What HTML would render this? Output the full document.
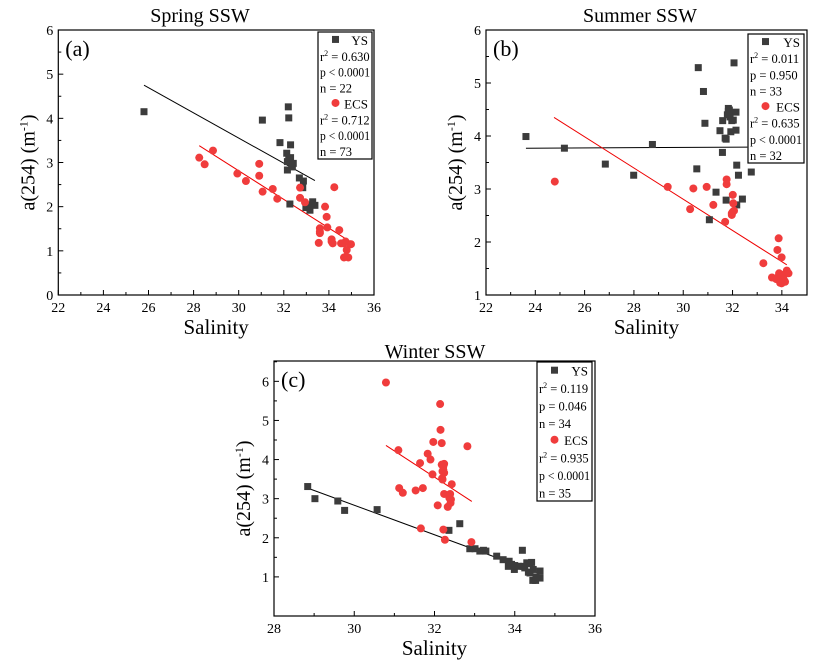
<!DOCTYPE html>
<html><head><meta charset="utf-8">
<style>
body{margin:0;background:#fff;width:816px;height:666px;overflow:hidden}
svg,svg text{font-family:"Liberation Serif",serif}
</style></head>
<body>
<svg id="fig" width="816" height="666" xmlns="http://www.w3.org/2000/svg"></svg>
<script>
// ---------- Panel (a) Spring ----------
const aYSx=[25.80,31.05,32.20,32.22,31.83,32.30,32.13,32.30,32.16,32.38,32.16,32.69,32.87,32.84,32.27,33.28,33.38,32.98,33.16,32.22,32.42,33.09];
const aYSy=[4.15,3.96,4.26,4.01,3.45,3.40,3.21,3.11,3.02,2.90,2.83,2.65,2.58,2.43,2.06,2.11,2.03,1.98,1.92,3.09,2.98,2.04];
const aECSx=[28.25,28.49,28.86,29.94,30.32,30.91,30.91,31.06,31.51,31.71,32.72,32.72,32.94,34.24,33.83,33.90,33.93,33.60,33.60,33.60,34.46,33.55,34.12,34.17,34.54,34.74,34.79,34.94,34.76,34.86,34.67,34.98,34.64,34.12];
const aECSy=[3.11,2.96,3.27,2.75,2.58,2.97,2.70,2.34,2.40,2.18,2.43,2.20,2.10,2.44,2.00,1.77,1.53,1.51,1.43,1.40,1.47,1.18,1.26,1.17,1.17,1.21,1.02,1.15,0.87,0.85,0.85,1.15,1.17,1.21];
const aYSfit=[[25.80,4.75],[33.38,2.59]];
const aECSfit=[[28.25,3.38],[34.94,1.21]];
const aXTicks=[22,24,26,28,30,32,34,36];
const aYTicks=[0,1,2,3,4,5,6];
const aLegend=["YS","r2 = 0.630","p < 0.0001","n = 22","ECS","r2 = 0.712","p < 0.0001","n = 73"];
// ---------- Panel (b) Summer ----------
const bYSx=[23.62,25.18,26.84,27.99,28.75,30.61,30.82,30.88,30.55,31.49,31.59,31.74,31.60,31.83,31.83,31.90,32.03,31.93,32.14,32.14,32.06,32.17,32.24,31.33,31.74,32.17,32.40,31.06,32.76,31.87,31.79,31.97,31.70];
const bYSy=[3.99,3.77,3.47,3.26,3.84,5.29,4.84,4.24,3.38,4.10,3.69,3.94,4.29,4.52,4.46,4.36,4.30,4.08,4.45,4.11,5.38,3.45,3.26,2.94,2.79,2.70,2.81,2.42,3.32,4.49,4.40,4.29,3.96];
const bECSx=[24.79,29.37,30.41,30.95,30.28,31.22,31.76,31.76,32.01,32.03,32.01,32.06,31.97,31.70,33.87,33.82,33.99,33.25,33.60,33.89,34.06,34.20,33.99,34.13,33.93,34.04,34.09,33.86,34.27,33.77,33.93,31.97];
const bECSy=[3.14,3.04,3.01,3.04,2.62,2.70,3.18,3.09,2.89,2.73,2.57,2.59,2.51,2.38,2.07,1.85,1.71,1.60,1.33,1.41,1.35,1.46,1.22,1.25,1.31,1.38,1.28,1.35,1.41,1.30,1.23,2.54];
const bYSfit=[[23.62,3.77],[32.6,3.79]];
const bECSfit=[[24.76,4.35],[34.20,1.57]];
const bXTicks=[22,24,26,28,30,32,34];
const bYTicks=[1,2,3,4,5,6];
const bLegend=["YS","r2 = 0.011","p = 0.950","n = 33","ECS","r2 = 0.635","p < 0.0001","n = 32"];
// ---------- Panel (c) Winter ----------
const cYSx=[28.84,29.02,29.59,29.76,30.57,32.36,32.63,32.88,33.01,33.13,33.28,33.55,33.86,33.84,33.99,34.19,34.21,34.30,34.38,34.42,34.34,34.45,34.52,34.63,34.63,34.25,34.09,34.46,33.92,33.22,34.38,34.53,33.71,34.00];
const cYSy=[3.31,3.00,2.94,2.70,2.72,2.19,2.36,1.72,1.72,1.66,1.66,1.53,1.40,1.27,1.19,1.68,1.27,1.36,1.34,1.37,1.12,0.91,0.91,1.15,0.97,1.23,1.27,1.19,1.32,1.68,1.10,1.00,1.44,1.29];
const cECSx=[30.79,32.14,32.15,31.97,32.18,32.82,31.10,31.83,31.90,31.64,32.22,32.24,32.20,32.24,31.95,32.20,32.43,31.12,31.21,31.53,31.71,32.24,32.39,32.41,32.40,32.08,32.33,31.66,32.22,32.26,32.92,32.18,32.22,32.19,32.37];
const cECSy=[5.97,5.42,4.76,4.45,4.42,4.34,4.24,4.15,4.00,3.91,3.83,3.89,3.70,3.66,3.62,3.49,3.37,3.27,3.15,3.21,3.27,3.12,3.12,2.98,2.89,2.83,2.79,2.24,2.21,1.95,1.89,3.87,3.74,3.52,3.02];
const cYSfit=[[28.84,3.27],[34.59,1.10]];
const cECSfit=[[30.79,4.36],[32.93,2.93]];
const cXTicks=[28,30,32,34,36];
const cYTicks=[1,2,3,4,5,6];
const cLegend=["YS","r2 = 0.119","p = 0.046","n = 34","ECS","r2 = 0.935","p < 0.0001","n = 35"];

const NS="http://www.w3.org/2000/svg";
const FF='"Liberation Serif", serif';
const svg=document.getElementById('fig');
function mk(tag,attrs,parent){const e=document.createElementNS(NS,tag);for(const k in attrs)e.setAttribute(k,attrs[k]);if(tag==='text')e.setAttribute('font-family',FF);(parent||svg).appendChild(e);return e;}

function panel(cfg){
  const g=mk('g',{});
  
  
  const sx=v=>cfg.L+(v-cfg.x0)*(cfg.R-cfg.L)/(cfg.x1-cfg.x0);
  const sy=v=>cfg.B-(v-cfg.y0)*(cfg.B-cfg.T)/(cfg.y1-cfg.y0);
  const box=mk('rect',{x:cfg.L,y:cfg.T,width:cfg.R-cfg.L,height:cfg.B-cfg.T,fill:'none',stroke:'#000','stroke-width':1.2},g);
  
  
  cfg.xt.forEach((t,i)=>{
    const x=sx(t);
    mk('line',{x1:x,y1:cfg.B,x2:x,y2:cfg.B-5,stroke:'#000'},g);
    const tx=mk('text',{x:x,y:cfg.B+17,'text-anchor':'middle','font-size':14},g);
    tx.textContent=t;
    
    
    if(i<cfg.xt.length-1){const m=sx(t+1);if(m<cfg.R)mk('line',{x1:m,y1:cfg.B,x2:m,y2:cfg.B-3,stroke:'#000'},g);}
  });
  cfg.yt.forEach((t,i)=>{
    const y=sy(t);
    mk('line',{x1:cfg.L,y1:y,x2:cfg.L+5,y2:y,stroke:'#000'},g);
    const ty=mk('text',{x:cfg.L-5,y:y+5,'text-anchor':'end','font-size':14},g);
    ty.textContent=t;
    
    
    const m=sy(t+0.5);if(m>cfg.T)mk('line',{x1:cfg.L,y1:m,x2:cfg.L+3,y2:m,stroke:'#000'},g);
  });
  [[cfg.ysfit,'#000','ys-fit-line'],[cfg.ecsfit,'#e00','ecs-fit-line']].forEach(f=>{
    const l=mk('line',{x1:sx(f[0][0][0]),y1:sy(f[0][0][1]),x2:sx(f[0][1][0]),y2:sy(f[0][1][1]),stroke:f[1],'stroke-width':1},g);
    
    
  });
  cfg.ysx.forEach((v,i)=>{
    const r=mk('rect',{x:sx(v)-3.5,y:sy(cfg.ysy[i])-3.5,width:7,height:7,fill:'#3c3c3c'},g);
    
    
  });
  cfg.ecsx.forEach((v,i)=>{
    const c=mk('circle',{cx:sx(v),cy:sy(cfg.ecsy[i]),r:4,fill:'#f03c3c'},g);
    
    
  });
  const lg=mk('g',{},g);
  
  
  mk('rect',{x:cfg.lg[0],y:cfg.lg[1],width:cfg.lg[2],height:cfg.lg[3],fill:'#fff',stroke:'#000','stroke-width':1.2},lg);
  const step=cfg.lg[3]/8;
  cfg.leg.forEach((s,i)=>{
    const y=cfg.lg[1]+step*(i+0.5)+5;
    const x0=cfg.lg[0]+2;
    if(i===0||i===4){
      if(i===0)mk('rect',{x:x0+12,y:y-9,width:7,height:7,fill:'#3c3c3c'},lg);
      else mk('circle',{cx:x0+15.5,cy:y-5.5,r:4,fill:'#f03c3c'},lg);
      const t=mk('text',{x:cfg.lg[0]+cfg.lg[2]-4,y:y,'text-anchor':'end','font-size':13},lg);
      t.textContent=s;
      
      
    }else{
      const t=mk('text',{x:x0,y:y,'font-size':12.5},lg);
      if(s.startsWith('r2')){t.innerHTML='r<tspan font-size="8" dy="-5">2</tspan><tspan dy="5">'+s.slice(2)+'</tspan>';}
      else t.textContent=s;
      if(s.startsWith('p <')){t.setAttribute('textLength',cfg.lg[2]-4);t.setAttribute('lengthAdjust','spacingAndGlyphs');}
      
      
    }
  });
  const pl=mk('text',{x:cfg.L+7,y:cfg.T+26,'font-size':22},g);pl.textContent=cfg.tag;
  
  
  const tt=mk('text',{x:cfg.tx,y:cfg.T-cfg.toff,'text-anchor':'middle','font-size':20},g);tt.textContent=cfg.title;
  
  
  const xl=mk('text',{x:(cfg.L+cfg.R)/2,y:cfg.B+39,'text-anchor':'middle','font-size':21},g);xl.textContent='Salinity';
  
  
  const cy=(cfg.T+cfg.B)/2, cx=cfg.L-24;
  const yl=mk('text',{x:cx,y:cy,'text-anchor':'middle','font-size':20,transform:`rotate(-90 ${cx} ${cy})`},g);
  yl.innerHTML='a(254) (m<tspan font-size="12" dy="-7">-1</tspan><tspan dy="7">)</tspan>';
  
  
}

panel({name:'spring-panel',tag:'(a)',title:'Spring SSW',tx:200,toff:8,L:58.3,R:374,T:30,B:295,x0:22,x1:36,y0:0,y1:6,
  xt:aXTicks,yt:aYTicks,ysx:aYSx,ysy:aYSy,ecsx:aECSx,ecsy:aECSy,ysfit:aYSfit,ecsfit:aECSfit,leg:aLegend,lg:[318,32,54,127]});
panel({name:'summer-panel',tag:'(b)',title:'Summer SSW',tx:640,toff:8,L:486,R:807,T:30,B:295,x0:22,x1:35.02,y0:1,y1:6,
  xt:bXTicks,yt:bYTicks,ysx:bYSx,ysy:bYSy,ecsx:bECSx,ecsy:bECSy,ysfit:bYSfit,ecsfit:bECSfit,leg:bLegend,lg:[748,34,56,129]});
panel({name:'winter-panel',tag:'(c)',title:'Winter SSW',tx:435,toff:3,L:274,R:595,T:361,B:616,x0:28,x1:36,y0:0,y1:6.52,
  xt:cXTicks,yt:cYTicks,ysx:cYSx,ysy:cYSy,ecsx:cECSx,ecsy:cECSy,ysfit:cYSfit,ecsfit:cECSfit,leg:cLegend,lg:[537,362,55,139]});
</script>
</body></html>
